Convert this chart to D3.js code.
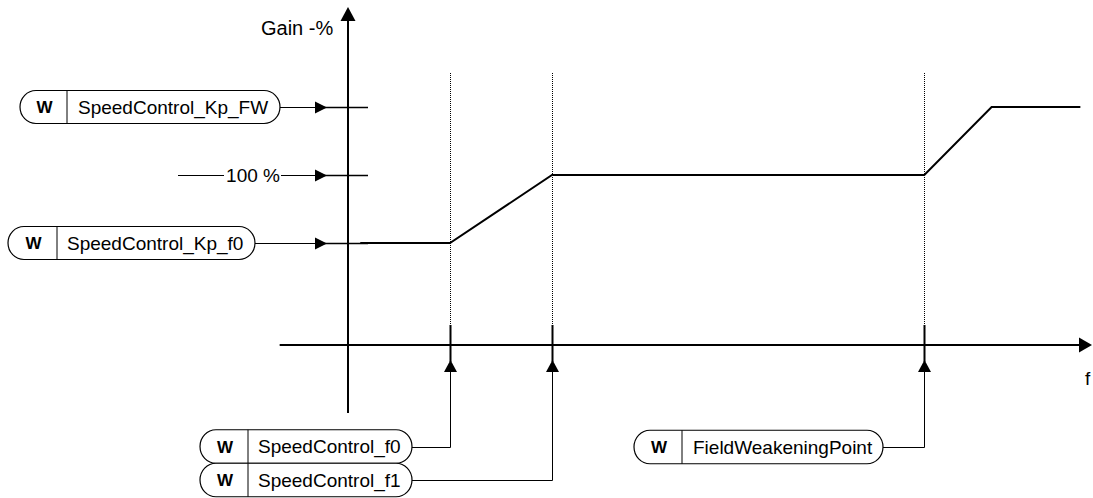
<!DOCTYPE html>
<html><head><meta charset="utf-8">
<script src="https://cdn.jsdelivr.net/npm/d3@7"></script>
<style>body{margin:0;background:#fff}svg{display:block}text{font-family:"Liberation Sans",Arial,sans-serif;fill:#000}</style>
</head><body>
<script>
// ---- data ----
const gainF = [1.2, 10, 20, 56.5, 63.1, 71.8];      // frequency (arbitrary units)
const gainV = [60, 60, 100, 100, 140, 140];          // gain in %
const levelNames = ["SpeedControl_Kp_FW", "100 %", "SpeedControl_Kp_f0"];
const levelValues = [140, 100, 60];
const freqNames = ["SpeedControl_f0", "SpeedControl_f1", "FieldWeakeningPoint"];
const freqValues = [10, 20, 56.5];
const axisLabels = ["Gain -%", "f"];

// ---- layout ----
const W = 1093, H = 498;
const x = d3.scaleLinear().domain([0, 10]).range([348, 450]);
const y = d3.scaleLinear().domain([0, 100]).range([345, 175]);
const FS = 19;

const svg = d3.select("body").append("svg").attr("width", W).attr("height", H);
svg.append("rect").attr("width", W).attr("height", H).attr("fill", "#fff");

function arrow(tipX, tipY, dir, len, half) {
  let pts;
  if (dir === "up") pts = [[tipX, tipY], [tipX - half, tipY + len], [tipX + half, tipY + len]];
  else pts = [[tipX, tipY], [tipX - len, tipY - half], [tipX - len, tipY + half]];
  svg.append("path").attr("d", d3.line()(pts) + "Z").attr("fill", "#000");
}

// axes
const x0 = x(0), y0 = y(0);
svg.append("line").attr("x1", x(-6.7)).attr("x2", 1080).attr("y1", y0).attr("y2", y0).attr("stroke", "#000").attr("stroke-width", 2);
arrow(1092, y0, "right", 13, 7.5);
svg.append("line").attr("x1", x0).attr("x2", x0).attr("y1", y(-40)).attr("y2", 20).attr("stroke", "#000").attr("stroke-width", 2);
arrow(x0, 7, "up", 14, 7.5);
svg.append("text").attr("x", 261).attr("y", 35).attr("font-size", 20).text(axisLabels[0]);
svg.append("text").attr("x", 1085).attr("y", 385).attr("font-size", FS).text(axisLabels[1]);

// vertical frequency markers
freqValues.forEach(f => {
  const xf = Math.round(x(f)) + 0.5;
  svg.append("line").attr("x1", xf).attr("x2", xf).attr("y1", 73).attr("y2", 325)
    .attr("stroke", "#000").attr("stroke-width", 1).attr("stroke-dasharray", "1,1");
  svg.append("line").attr("x1", xf).attr("x2", xf).attr("y1", 325).attr("y2", 362)
    .attr("stroke", "#000").attr("stroke-width", 2);
  arrow(xf, 360, "up", 12, 6.5);
});

// level tick lines
levelValues.forEach(v => {
  const yv = Math.round(y(v)) + 0.5;
  svg.append("line").attr("x1", 318).attr("x2", 368).attr("y1", yv).attr("y2", yv).attr("stroke", "#000").attr("stroke-width", 1.6);
  arrow(327, yv, "right", 12, 6);
});

// gain curve
const pts = gainF.map((f, i) => [x(f), y(gainV[i])]);
svg.append("path").attr("d", d3.line()(pts)).attr("fill", "none").attr("stroke", "#000").attr("stroke-width", 2);

// pills
function pill(name, x0p, x1p, yc, h, divX, textX) {
  const g = svg.append("g");
  g.append("rect").attr("x", x0p).attr("y", yc - h / 2).attr("width", x1p - x0p).attr("height", h)
    .attr("rx", 16).attr("ry", h / 2).attr("fill", "#fff").attr("stroke", "#000").attr("stroke-width", 1.2);
  g.append("line").attr("x1", divX).attr("x2", divX).attr("y1", yc - h / 2).attr("y2", yc + h / 2).attr("stroke", "#000").attr("stroke-width", 1);
  g.append("text").attr("x", (x0p + divX) / 2 + 1).attr("y", yc + 6).attr("text-anchor", "middle")
    .attr("font-size", 17).attr("font-weight", "bold").text("W");
  g.append("text").attr("x", textX).attr("y", yc + 6.5).attr("font-size", FS).text(name);
}

// left side (levels)
const yFW = Math.round(y(levelValues[0])) + 0.5;
svg.append("line").attr("x1", 280).attr("x2", 318).attr("y1", yFW).attr("y2", yFW).attr("stroke", "#000");
pill(levelNames[0], 20, 280, y(levelValues[0]), 33, 67, 78);

const y100 = Math.round(y(levelValues[1])) + 0.5;
svg.append("line").attr("x1", 178).attr("x2", 224).attr("y1", y100).attr("y2", y100).attr("stroke", "#000");
svg.append("line").attr("x1", 281).attr("x2", 318).attr("y1", y100).attr("y2", y100).attr("stroke", "#000");
svg.append("text").attr("x", 253).attr("y", y(levelValues[1]) + 6.5).attr("text-anchor", "middle").attr("font-size", FS).text(levelNames[1]);

const yK0 = Math.round(y(levelValues[2])) + 0.5;
svg.append("line").attr("x1", 255).attr("x2", 318).attr("y1", yK0).attr("y2", yK0).attr("stroke", "#000");
pill(levelNames[2], 8, 255, y(levelValues[2]), 33, 57, 67);

// bottom (frequencies)
const conn = [{yc: 446.5, x0: 200, x1: 412, div: 248, tx: 258},
              {yc: 480, x0: 200, x1: 412, div: 248, tx: 258},
              {yc: 447, x0: 634, x1: 883, div: 682, tx: 693}];
freqValues.forEach((f, i) => {
  const c = conn[i];
  const xf = Math.round(x(f)) + 0.5;
  const yy = Math.round(c.yc) + 0.5;
  svg.append("path").attr("d", `M${c.x1},${yy}H${xf}V372`).attr("fill", "none").attr("stroke", "#000").attr("stroke-width", 1);
});
freqValues.forEach((f, i) => {
  const c = conn[i];
  pill(freqNames[i], c.x0, c.x1, c.yc, 33.5, c.div, c.tx);
});
</script>
</body></html>
